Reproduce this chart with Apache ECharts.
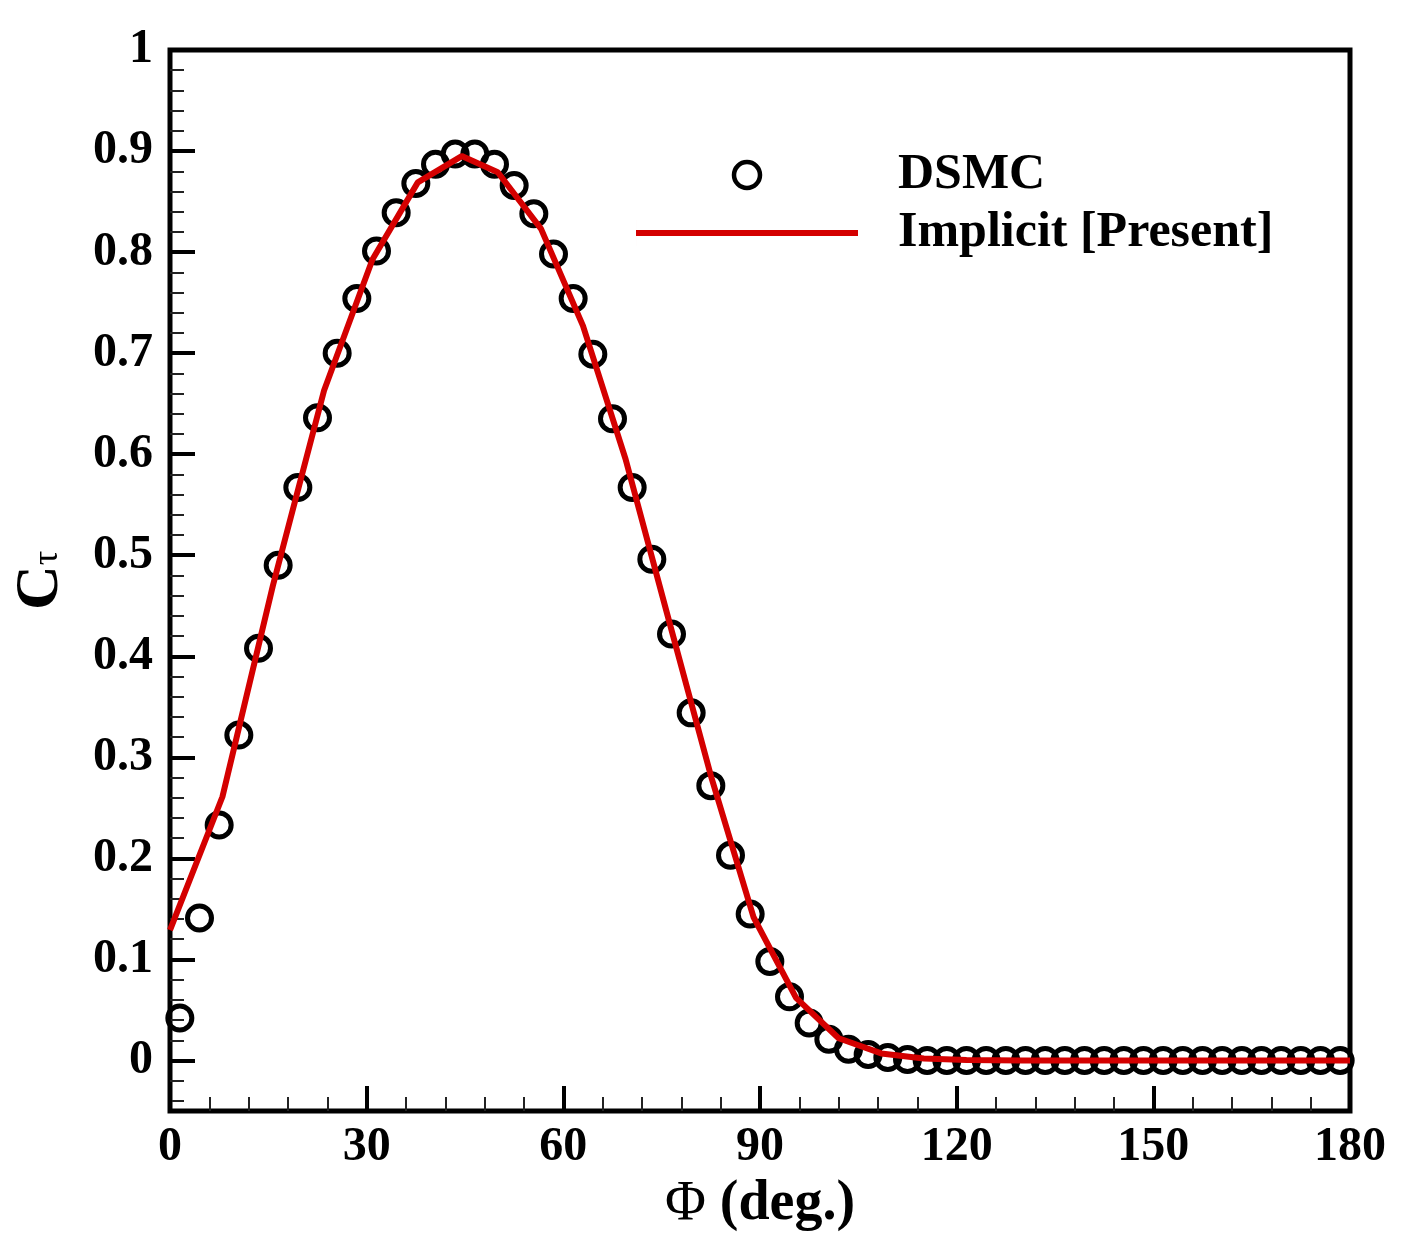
<!DOCTYPE html>
<html>
<head>
<meta charset="utf-8">
<script src="https://cdn.jsdelivr.net/npm/echarts@6/dist/echarts.min.js"></script>
<style>
  html, body { margin: 0; padding: 0; background: #fff; }
  #chart { width: 1406px; height: 1250px; }
</style>
</head>
<body>
<div id="chart"></div>
<script>
// DSMC samples (every 3 deg, starting at 1.5)
var dsmcX = [1.5, 4.5, 7.5, 10.5, 13.5, 16.5, 19.5, 22.5, 25.5, 28.5,
    31.5, 34.5, 37.5, 40.5, 43.5, 46.5, 49.5, 52.5, 55.5, 58.5,
    61.5, 64.5, 67.5, 70.5, 73.5, 76.5, 79.5, 82.5, 85.5, 88.5,
    91.5, 94.5, 97.5, 100.5, 103.5, 106.5, 109.5, 112.5, 115.5, 118.5,
    121.5, 124.5, 127.5, 130.5, 133.5, 136.5, 139.5, 142.5, 145.5, 148.5,
    151.5, 154.5, 157.5, 160.5, 163.5, 166.5, 169.5, 172.5, 175.5, 178.5];
var dsmcY = [0.042, 0.141, 0.233, 0.322, 0.408, 0.490, 0.567, 0.636, 0.700, 0.754,
    0.801, 0.839, 0.868, 0.887, 0.897, 0.897, 0.887, 0.866, 0.838, 0.798,
    0.754, 0.699, 0.635, 0.567, 0.496, 0.422, 0.344, 0.272, 0.203, 0.145,
    0.098, 0.063, 0.037, 0.021, 0.011, 0.006, 0.003, 0.001, 0, 0,
    0, 0, 0, 0, 0, 0, 0, 0, 0, 0,
    0, 0, 0, 0, 0, 0, 0, 0, 0, 0];

// Implicit [Present] solution
var implicitX = [0, 8, 15.7, 23.5, 30.9, 37.8, 44.5, 50, 56.6, 63, 69.5, 76, 82.5,
    89, 95.5, 102, 108.5, 115, 121.5, 130, 140, 150, 160, 170, 180];
var implicitY = [0.129, 0.261, 0.470, 0.663, 0.793, 0.869, 0.895, 0.879, 0.823, 0.727,
    0.595, 0.438, 0.282, 0.142, 0.062, 0.022, 0.007, 0.002, 0.0005, 0, 0, 0, 0, 0, 0];

var xTicks = [0, 30, 60, 90, 120, 150, 180];
var yTicks = [0, 0.1, 0.2, 0.3, 0.4, 0.5, 0.6, 0.7, 0.8, 0.9, 1];

var font = '"Liberation Serif", "Times New Roman", serif';
var dom = document.getElementById('chart');
var myChart = echarts.init(dom);

function pairs(xs, ys) {
    return xs.map(function (x, i) { return [x, ys[i]]; });
}

var option = {
    backgroundColor: '#fff',
    animation: false,
    grid: [
        // data grid, y from -0.05 to 1
        { left: 170, top: 50, width: 1180, height: 1061, show: true, outerBoundsMode: 'none',
          containLabel: false, borderColor: '#000', borderWidth: 5, backgroundColor: 'transparent' },
        // minor y ticks, -0.04 to 1
        { left: 170, top: 50, width: 1180, height: 1061 * 1.04 / 1.05, show: false,
          outerBoundsMode: 'none', containLabel: false },
        // major y ticks and labels, 0 to 1
        { left: 170, top: 50, width: 1180, height: 1061 / 1.05, show: false,
          outerBoundsMode: 'none', containLabel: false }
    ],
    legend: {
        orient: 'vertical',
        left: 636,
        top: 150,
        padding: 0,
        itemWidth: 222,
        itemHeight: 26,
        itemGap: 8,
        textStyle: {
            fontFamily: font, fontWeight: 'bold', fontSize: 50, color: '#000',
            padding: [0, 0, 0, 35]
        },
        data: [
            { name: 'DSMC', icon: 'circle',
              itemStyle: { color: 'rgba(0,0,0,0)', borderColor: '#000', borderWidth: 4.5 } },
            { name: 'Implicit [Present]',
              icon: 'path://M0,10H222V16H0Z M0,0H0.01V26H0Z',
              itemStyle: { color: '#d40000', borderWidth: 0 } }
        ]
    },
    xAxis: [
        {
            gridIndex: 0, type: 'value', min: 0, max: 180, interval: 30,
            name: '{p|Φ}{d| (deg.)}', nameLocation: 'middle', nameGap: 56,
            nameTextStyle: {
                rich: {
                    p: { fontFamily: font, fontSize: 56, color: '#000' },
                    d: { fontFamily: font, fontSize: 56, fontWeight: 'bold', color: '#000' }
                }
            },
            axisLine: { show: false, onZero: false },
            axisTick: { show: true, inside: true, length: 25, lineStyle: { color: '#000', width: 4 } },
            minorTick: { show: true, splitNumber: 5, length: 14, lineStyle: { color: '#222', width: 2 } },
            splitLine: { show: false },
            axisLabel: { fontFamily: font, fontWeight: 'bold', fontSize: 48, color: '#000', margin: 13 }
        },
        { gridIndex: 1, type: 'value', min: 0, max: 180, show: false },
        { gridIndex: 2, type: 'value', min: 0, max: 180, show: false }
    ],
    yAxis: [
        {
            gridIndex: 0, type: 'value', min: -0.05, max: 1,
            axisLine: { show: false, onZero: false }, axisTick: { show: false },
            axisLabel: { show: false }, splitLine: { show: false },
            name: '{c|C}{t|τ}', nameLocation: 'middle', nameRotate: 90, nameGap: 104,
            nameTextStyle: {
                rich: {
                    c: { fontFamily: font, fontWeight: 'bold', fontSize: 62, color: '#000',
                         lineHeight: 56, verticalAlign: 'top' },
                    t: { fontFamily: font, fontSize: 36, color: '#000',
                         lineHeight: 34, padding: [36, 0, 0, 0], verticalAlign: 'bottom' }
                }
            }
        },
        {
            gridIndex: 1, type: 'value', min: -0.04, max: 1, interval: 0.02,
            axisLine: { show: false, onZero: false }, splitLine: { show: false },
            axisLabel: { show: false },
            axisTick: { show: true, inside: true, length: 14, lineStyle: { color: '#222', width: 2 } }
        },
        {
            gridIndex: 2, type: 'value', min: 0, max: 1, interval: 0.1,
            axisLine: { show: false, onZero: false }, splitLine: { show: false },
            axisTick: { show: true, inside: true, length: 25, lineStyle: { color: '#000', width: 4 } },
            axisLabel: {
                fontFamily: font, fontWeight: 'bold', fontSize: 48, color: '#000', margin: 17,
                formatter: function (v) {
                    var hit = yTicks.filter(function (t) { return Math.abs(t - v) < 1e-6; });
                    return hit.length ? String(hit[0]) : '';
                }
            }
        }
    ],
    series: [
        {
            name: 'DSMC',
            type: 'scatter',
            xAxisIndex: 0, yAxisIndex: 0,
            symbol: 'circle',
            symbolSize: 24,
            itemStyle: { color: 'rgba(0,0,0,0)', borderColor: '#000', borderWidth: 5, opacity: 1 },
            z: 2,
            data: pairs(dsmcX, dsmcY)
        },
        {
            name: 'Implicit [Present]',
            type: 'line',
            xAxisIndex: 0, yAxisIndex: 0,
            symbol: 'none',
            showSymbol: false,
            smooth: false,
            lineStyle: { color: '#d40000', width: 6 },
            itemStyle: { color: '#d40000' },
            z: 3,
            data: pairs(implicitX, implicitY)
        }
    ]
};

if (option && typeof option === "object") {
    myChart.setOption(option, true);
}
</script>
</body>
</html>
